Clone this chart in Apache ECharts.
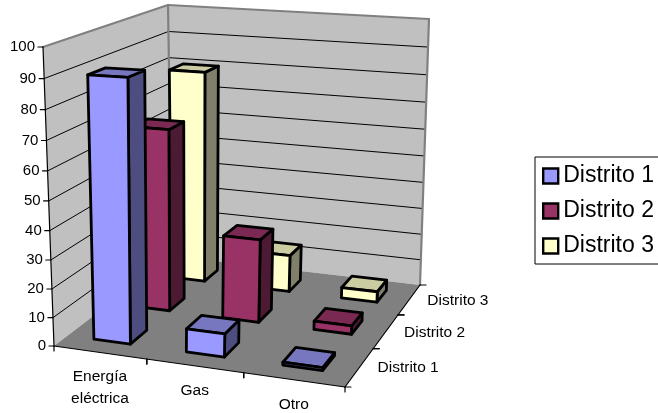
<!DOCTYPE html>
<html><head><meta charset="utf-8">
<style>html,body{margin:0;padding:0;background:#fff}#c{width:658px;height:413px}</style>
<script src="https://cdn.jsdelivr.net/npm/echarts@6/dist/echarts.min.js"></script>
</head><body><div id="c"></div>
<script>
const categories = ['Energía\neléctrica', 'Gas', 'Otro'];
const depthLabels = ['Distrito 1', 'Distrito 2', 'Distrito 3'];
const valueTicks = [0, 10, 20, 30, 40, 50, 60, 70, 80, 90, 100];
const distrito1 = [90, 8, 1];
const distrito2 = [66, 30, 3];
const distrito3 = [80, 14, 4];

const W = 658, H = 413;
// Perspective frame of the 3-D plot: floor plane and plane at the axis maximum
const FLOOR = [[54, 346], [345, 387], [420, 285], [172, 256]];
const ROOF = [[43, 47], [351, 63], [429, 19], [168, 5]];
const HEIGHT_BEND = -0.058;

function homography(q) {
  const [A, B, C, D] = q;
  const den = (B[0]-C[0])*(D[1]-C[1]) - (D[0]-C[0])*(B[1]-C[1]);
  const sx = A[0]-B[0]+C[0]-D[0], sy = A[1]-B[1]+C[1]-D[1];
  const g = (sx*(D[1]-C[1]) - (D[0]-C[0])*sy) / den;
  const h = ((B[0]-C[0])*sy - sx*(B[1]-C[1])) / den;
  const a = [B[0]-A[0]+g*B[0], B[1]-A[1]+g*B[1]];
  const b = [D[0]-A[0]+h*D[0], D[1]-A[1]+h*D[1]];
  return (u, v) => { const w = g*u + h*v + 1; return [0,1].map(i => (a[i]*u + b[i]*v + A[i]) / w); };
}
const floorAt = homography(FLOOR), roofAt = homography(ROOF);
function proj(u, v, t) {
  const s = t*(1+HEIGHT_BEND)/(1+HEIGHT_BEND*t);
  const p = floorAt(u, v), q = roofAt(u, v);
  return [p[0]+(q[0]-p[0])*s, p[1]+(q[1]-p[1])*s];
}
// Axis units -> unit cube, through the hidden cartesian axes
function P(api, cat, v, val) {
  const p = api.coord([cat, val]);
  return proj(p[0]/W, v, 1 - p[1]/H);
}
const BLACK = '#000', GREY = '#808080', WALL = '#C0C0C0';
const poly = (points, fill, stroke, lw) => ({type:'polygon', shape:{points}, style:{fill, stroke: stroke||'none', lineWidth: lw||0, lineJoin:'round'}});
const line = (p, q, stroke, lw) => ({type:'line', shape:{x1:p[0],y1:p[1],x2:q[0],y2:q[1]}, style:{stroke, lineWidth:lw||1, lineCap:'round'}});
const label = (text, x, y, align, size) => ({type:'text', style:{text, x, y, textAlign:align, textVerticalAlign:'middle', fill:'#000', font:(size||15.5)+'px "Liberation Sans", Arial, sans-serif', lineHeight:22}});

function renderFrame(params, api) {
  const ch = [];
  const P2 = (c, v, val) => P(api, c, v, val);
  ch.push(poly([P2(0,0,0),P2(0,1,0),P2(0,1,100),P2(0,0,100)], WALL));
  ch.push(poly([P2(0,1,0),P2(3,1,0),P2(3,1,100),P2(0,1,100)], WALL));
  ch.push(poly([P2(0,0,0),P2(3,0,0),P2(3,1,0),P2(0,1,0)], GREY));
  valueTicks.forEach(val => {
    if (val > 0 && val < 100) {
      ch.push(line(P2(0,0,val), P2(0,1,val), BLACK, 1));
      ch.push(line(P2(0,1,val), P2(3,1,val), BLACK, 1));
    }
  });
  ch.push(line(P2(0,0,100), P2(0,1,100), GREY, 2.2));
  ch.push(line(P2(0,1,100), P2(3,1,100), GREY, 2.2));
  ch.push(line(P2(0,1,100), P2(0,1,0), GREY, 2.2));
  ch.push(line(P2(3,1,100), P2(3,1,0), GREY, 2.2));
  ch.push(line(P2(0,0,0), P2(0,0,100), BLACK, 1.2));
  ch.push(line(P2(0,0,0), P2(3,0,0), BLACK, 1.2));
  ch.push(line(P2(3,0,0), P2(3,1,0), BLACK, 1.2));
  valueTicks.forEach(val => {
    const p = P2(0,0,val);
    ch.push(line([p[0]-5,p[1]], p, BLACK, 1.2));
    ch.push(label(String(val), p[0]-8, p[1], 'right', 15));
  });
  categories.forEach((c, i) => {
    [i, i+1].forEach(k => { const p = P2(k,0,0); ch.push(line(p, [p[0],p[1]+5], BLACK, 1.2)); });
    const p = P2(i+.5,0,0);
    ch.push(label(c, p[0], p[1] + 25 + (c.split('\n').length-1)*10, 'center'));
  });
  depthLabels.forEach((c, i) => {
    [i/3, (i+1)/3].forEach(v => { const p = P2(3,v,0); ch.push(line(p, [p[0]+6,p[1]], BLACK, 1.2)); });
    const p = P2(3,(i+.5)/3,0);
    ch.push(label(c, p[0]+18, p[1]+1, 'left'));
  });
  return {type:'group', children: ch};
}
function makeBar(depth, front, top, side) {
  return function (params, api) {
    const cat = api.value(0), val = api.value(1);
    const u0 = cat+.29, u1 = cat+.69, v0 = (depth+.3)/3, v1 = (depth+.7)/3;
    const f = (u, v, x) => P(api, u, v, x);
    const S = {stroke:BLACK, lw:2.8};
    return {type:'group', children:[
      poly([f(u1,v0,0),f(u1,v1,0),f(u1,v1,val),f(u1,v0,val)], side, S.stroke, S.lw),
      poly([f(u0,v0,val),f(u1,v0,val),f(u1,v1,val),f(u0,v1,val)], top, S.stroke, S.lw),
      poly([f(u0,v0,0),f(u1,v0,0),f(u1,v0,val),f(u0,v0,val)], front, S.stroke, S.lw)
    ]};
  };
}
const points = arr => arr.map((v, i) => [i, v]);
const chart = echarts.init(document.getElementById('c'), null, {renderer:'canvas', width:W, height:H});
chart.setOption({
  animation:false,
  backgroundColor:'#fff',
  grid:{left:0, top:0, width:W, height:H},
  xAxis:{type:'value', min:0, max:3, show:false},
  yAxis:{type:'value', min:0, max:100, interval:10, show:false},
  legend:{
    data:depthLabels, orient:'vertical', left:535, top:157, icon:'rect',
    itemWidth:15, itemHeight:15, itemGap:9,
    padding:[6,80,5,7], borderColor:'#000', borderWidth:1,
    itemStyle:{borderColor:'#000', borderWidth:2.4},
    selectedMode:false,
    textStyle:{fontFamily:'"Liberation Sans", Arial, sans-serif', fontSize:23, lineHeight:26, color:'#000'}
  },
  series:[
    {type:'custom', name:'frame', z:1, silent:true, data:[[0,0]], renderItem:renderFrame},
    {type:'custom', name:depthLabels[0], z:4, itemStyle:{color:'#9999FF'}, data:points(distrito1), renderItem:makeBar(0,'#9999FF','#7777C0','#4D4D80')},
    {type:'custom', name:depthLabels[1], z:3, itemStyle:{color:'#993366'}, data:points(distrito2), renderItem:makeBar(1,'#993366','#7A2952','#4D1A33')},
    {type:'custom', name:depthLabels[2], z:2, itemStyle:{color:'#FFFFCC'}, data:points(distrito3), renderItem:makeBar(2,'#FFFFCC','#CCCCA3','#80806A')}
  ]
});
</script></body></html>
